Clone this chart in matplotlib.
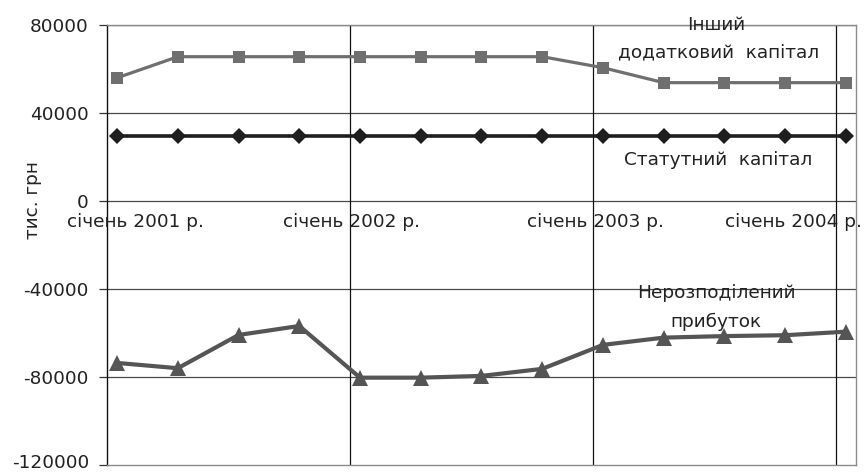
import matplotlib
matplotlib.use("Agg")
import matplotlib.pyplot as plt
from matplotlib.transforms import ScaledTranslation

plt.rcParams['font.family'] = ['DejaVu Sans']

# Quarterly observations, months since January 2001
months = [0, 3, 6, 9, 12, 15, 18, 21, 24, 27, 30, 33, 36]

other_capital = [56000, 65600, 65600, 65600, 65600, 65600, 65600, 65600,
                 60600, 53800, 53800, 53800, 53800]
statutory_capital = [29600] * 13
retained_profit = [-73600, -76000, -60900, -56800, -80300, -80300, -79500,
                   -76300, -65400, -62100, -61400, -61000, -59400]

year_labels = ["січень 2001 р.", "січень 2002 р.", "січень 2003 р.", "січень 2004 р."]
year_starts = [-0.5, 11.5, 23.5, 35.5]
label_x = [0.9, 11.6, 23.65, 33.4]

yticks = [-120000, -80000, -40000, 0, 40000, 80000]

FS = 13.3
TXT = '#222222'

fig = plt.figure(figsize=(8.64, 4.73), dpi=100)
ax = fig.add_axes([0.1238, 0.0169, 0.8669, 0.9302])

ax.set_xlim(-0.5, 36.5)
ax.set_ylim(-120000, 80000)

# horizontal grid
for y in yticks[1:]:
    ax.axhline(y, color='#4a4a4a', lw=0.9, zorder=1)
# vertical grid at year starts
for x in year_starts[1:]:
    ax.axvline(x, color='#111111', lw=0.9, zorder=1)

ax.plot(months, other_capital, color='#6f6f6f', lw=2.3, marker='s',
        markersize=9, markeredgewidth=0, zorder=3)
ax.plot(months, statutory_capital, color='#1e1e1e', lw=2.6, marker='D',
        markersize=8, markeredgewidth=0, zorder=3)
ax.plot(months, retained_profit, color='#555555', lw=3.0, marker='^',
        markersize=11, markeredgewidth=0, zorder=3)

ax.set_xticks([])
ax.set_yticks(yticks)
ax.set_yticklabels([str(v) for v in yticks], fontsize=FS, color=TXT)
ax.tick_params(axis='y', length=6, width=0.9, color='#333333', pad=7)

# keep the lowest tick label inside the canvas
lowest = ax.get_yticklabels()[0]
lowest.set_transform(lowest.get_transform() +
                     ScaledTranslation(0, 3 / 72, fig.dpi_scale_trans))

for sp in ['top', 'right', 'bottom']:
    ax.spines[sp].set_color('#8a8a8a')
    ax.spines[sp].set_linewidth(1.0)
ax.spines['left'].set_color('#111111')
ax.spines['left'].set_linewidth(1.0)

for lx, lab in zip(label_x, year_labels):
    ax.text(lx, -9500, lab, ha='center', va='center', fontsize=FS,
            color=TXT, zorder=4)

ax.text(29.6, 79800, "Інший", ha='center', va='center', fontsize=FS, color=TXT)
ax.text(29.7, 67500, "додатковий  капітал", ha='center', va='center', fontsize=FS, color=TXT)
ax.text(29.7, 18500, "Статутний  капітал", ha='center', va='center', fontsize=FS, color=TXT)
ax.text(29.6, -41800, "Нерозподілений", ha='center', va='center', fontsize=FS, color=TXT)
ax.text(29.6, -55000, "прибуток", ha='center', va='center', fontsize=FS, color=TXT)

fig.text(0.038, 0.577, "тис. грн", rotation=90, ha='center', va='center',
         fontsize=FS, color=TXT)

fig.savefig("out.png", dpi=100)
